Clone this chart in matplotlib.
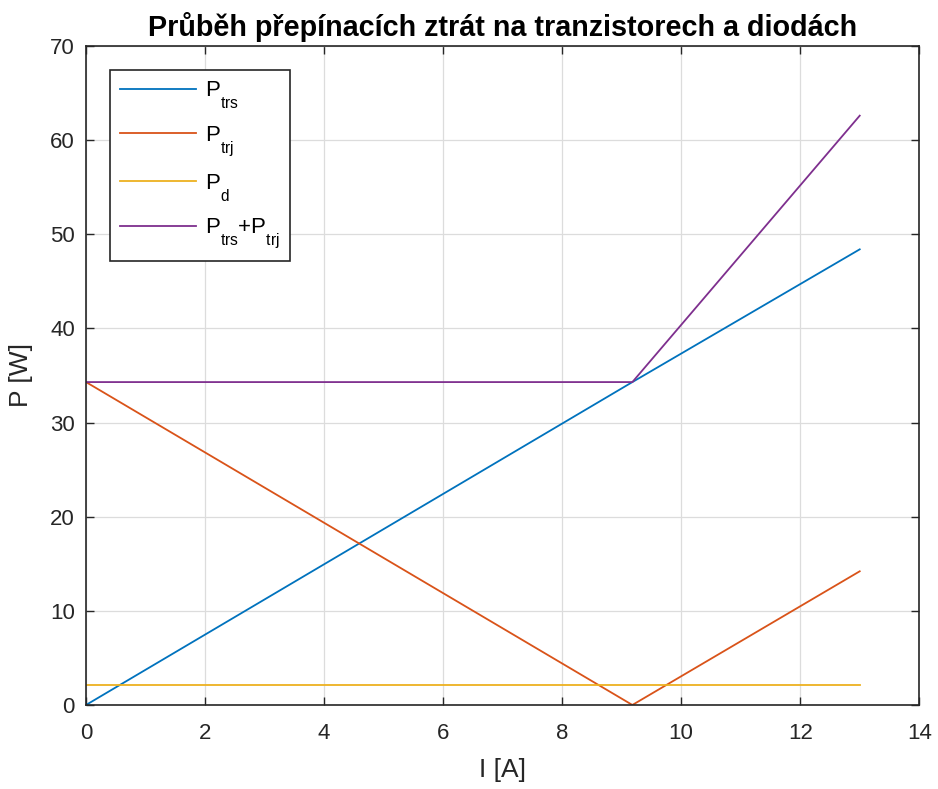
import matplotlib.pyplot as plt
import matplotlib._mathtext as mtext

plt.rcParams['font.family'] = ['Liberation Sans', 'DejaVu Sans']
plt.rcParams['mathtext.fontset'] = 'custom'
plt.rcParams['mathtext.rm'] = 'Liberation Sans'
plt.rcParams['mathtext.it'] = 'Liberation Sans'

# drop the subscripts lower, like the MATLAB tex interpreter does
try:
    mtext.FontConstantsBase.sub1 = 1.05
except AttributeError:
    pass

# current breakpoints [A]
I = [0, 9.18, 13]

# losses [W]
P_trs = [0, 34.3, 48.4]
P_trj = [34.3, 0, 14.2]
P_d = [2.1, 2.1, 2.1]
P_sum = [34.3, 34.3, 62.6]

labels = [r'P$_{\rm trs}$', r'P$_{\rm trj}$', r'P$_{\rm d}$',
          r'P$_{\rm trs}$+P$_{\rm trj}$']
colors = ['#0072BD', '#D95319', '#EDB120', '#7E2F8E']

fig = plt.figure(figsize=(9.38, 7.89), dpi=100)
ax = fig.add_axes([0.0917, 0.1065, 0.8883, 0.8352])

for y, lab, c in zip([P_trs, P_trj, P_d, P_sum], labels, colors):
    ax.plot(I, y, color=c, lw=1.3, label=lab)

ax.set_xlim(0, 14)
ax.set_ylim(0, 70)
ax.set_xticks(range(0, 15, 2))
ax.set_yticks(range(0, 71, 10))
ax.grid(True, color='#dcdcdc', lw=0.9)
ax.set_axisbelow(True)

for s in ax.spines.values():
    s.set_color('#262626')
    s.set_linewidth(1.2)
ax.tick_params(direction='in', top=True, right=True, length=6, width=1.0,
               colors='#262626', labelsize=16)
ax.tick_params(axis='x', pad=13)
ax.tick_params(axis='y', pad=8)

ax.set_xlabel('I [A]', fontsize=19, color='#262626', labelpad=10)
ax.set_ylabel('P [W]', fontsize=19, color='#262626', labelpad=12)
ax.set_title('Průběh přepínacích ztrát na tranzistorech a diodách',
             fontsize=20.7, fontweight='bold', pad=7)

leg = ax.legend(loc='upper left', bbox_to_anchor=(0.029, 0.964), fontsize=16,
                handlelength=3.4, handletextpad=0.4, borderpad=0.45,
                labelspacing=0.6, borderaxespad=0, fancybox=False,
                framealpha=1, edgecolor='#262626')
leg.get_frame().set_linewidth(1.2)

fig.savefig('out.png', dpi=100)
